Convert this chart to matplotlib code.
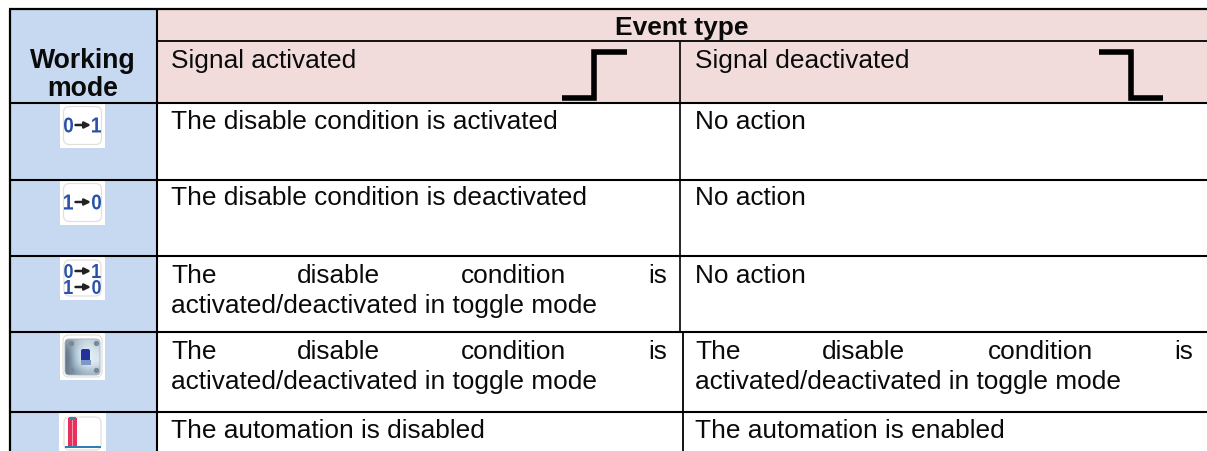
"""Working mode / event type table, drawn in pixel coordinates."""

import matplotlib
matplotlib.use("Agg")
import matplotlib.pyplot as plt
from matplotlib.colors import to_rgb
from matplotlib.font_manager import FontProperties
from matplotlib.patches import FancyBboxPatch, PathPatch, Rectangle
from matplotlib.textpath import TextPath
from matplotlib.transforms import Affine2D

plt.rcParams["font.family"] = ["Liberation Sans", "DejaVu Sans"]

W, H = 1207, 452
FS = 18.9
BLACK = "#000000"
BLUE_BG = "#c6d9f1"
PINK_BG = "#f2dcdb"
ICON_BLUE = "#2a52a8"

# ----------------------------------------------------------------------
# Table content
# ----------------------------------------------------------------------
group_header = "Event type"
activated_header = "Signal activated"
deactivated_header = "Signal deactivated"

toggle_words = ["The", "disable", "condition", "is"]
toggle_second = "activated/deactivated in toggle mode"

activated_text = [
    "The disable condition is activated",
    "The disable condition is deactivated",
    None,
    None,
    "The automation is disabled",
]
deactivated_text = [
    "No action",
    "No action",
    "No action",
    None,
    "The automation is enabled",
]

# shading of the switch icon plate
plate_colors = [
    ["#8c9cab", "#a9b9c5", "#c3d2dc", "#c9d9e3", "#bccbd6"],
    ["#65798a", "#b9cfdd", "#d4e6f1", "#e2eff7", "#d0dee8"],
    ["#5f7384", "#b3cbdb", "#d6e8f3", "#e8f3f9", "#dbe8f0"],
    ["#5f7384", "#aac4d6", "#d0e4f0", "#e4f0f7", "#d8e5ee"],
    ["#6c7f8f", "#8296a6", "#9cb0bf", "#a9bcc9", "#a5b6c3"],
]

fig = plt.figure(figsize=(W / 100, H / 100), dpi=100)
ax = fig.add_axes([0, 0, 1, 1])

# ----------------------------------------------------------------------
# Grid geometry (pixels)
# ----------------------------------------------------------------------
LEFT, COL1 = 9.5, 157
TOP, SUB, HEAD = 10, 42, 103.5
row_lines = [103.5, 181, 257, 333, 412.7]
col2_top = 680
col2_bottom = 682.7


def hline(y, x0, x1, lw=1.4):
    ax.plot([x0, x1], [y, y], color=BLACK, lw=lw, solid_capstyle="butt", zorder=3)


def vline(x, y0, y1, lw=1.4):
    ax.plot([x, x], [y0, y1], color=BLACK, lw=lw, solid_capstyle="butt", zorder=3)


ax.add_patch(Rectangle((LEFT, TOP), COL1 - LEFT, H - TOP, fc=BLUE_BG, ec="none"))
ax.add_patch(Rectangle((COL1, TOP), W - COL1, HEAD - TOP, fc=PINK_BG, ec="none"))

hline(TOP, LEFT - 1, W, 1.6)
hline(SUB, COL1, W, 1.3)
for y in row_lines:
    hline(y, LEFT, W, 1.5)
vline(LEFT, TOP, H, 1.6)
vline(COL1, TOP, H, 1.5)
vline(col2_top, SUB, 333, 1.2)
vline(col2_bottom, 333, H, 1.3)


# ----------------------------------------------------------------------
# Text
# ----------------------------------------------------------------------
def put(x, y, s, **kw):
    kw.setdefault("fontsize", FS)
    kw.setdefault("va", "baseline")
    kw.setdefault("color", "#0a0a0a")
    return ax.text(x, y, s, **kw)


put(82.5, 68, "Working", ha="center", fontweight="bold", fontsize=19.2)
put(82.5, 96, "mode", ha="center", fontweight="bold", fontsize=19.2)
put(682, 34.5, group_header, ha="center", fontweight="bold", fontsize=19)
put(171, 68, activated_header)
put(695, 68, deactivated_header)

cell_x1 = 171
cell_x2 = 695
baselines = [129, 205, 283, 359, 438]
for y, a, d in zip(baselines, activated_text, deactivated_text):
    if a:
        put(cell_x1, y, a)
    if d:
        put(cell_x2, y, d)


def toggle_cell(x0, y, word_x):
    """Justified first line, the word spacing follows the reference."""
    for word, wx in zip(toggle_words, word_x):
        put(wx, y, word)
    put(x0, y + 30, toggle_second)


toggle_cell(171, 283, [171, 297, 461, 648])
toggle_cell(171, 359, [171, 297, 461, 648])
toggle_cell(695, 359, [695, 822, 988, 1174])


# ----------------------------------------------------------------------
# Signal edge symbols
# ----------------------------------------------------------------------
def edge(xs, ys):
    ax.plot(xs, ys, color=BLACK, lw=4.0, solid_joinstyle="miter",
            solid_capstyle="butt", zorder=4)


edge([562, 594, 594, 627], [99, 99, 53.3, 53.3])
edge([1099, 1131, 1131, 1163], [53.3, 53.3, 99, 99])


# ----------------------------------------------------------------------
# Icons
# ----------------------------------------------------------------------
def icon_base(x0, y0, x1, y1, pad=3.5):
    ax.add_patch(Rectangle((x0, y0), x1 - x0, y1 - y0, fc="white", ec="none", zorder=2))
    ax.add_patch(FancyBboxPatch((x0 + pad, y0 + pad), x1 - x0 - 2 * pad, y1 - y0 - 2 * pad,
                                boxstyle="round,pad=0,rounding_size=6", fc="white",
                                ec="#e0e0e0", lw=0.9, zorder=2))


def narrow_digit(cx, cy, s, w, h):
    """The icon digits are condensed, so the glyph is squeezed into a w x h box."""
    path = TextPath((0, 0), s, size=1, prop=FontProperties(family="Liberation Sans", weight="bold"))
    box = path.get_extents()
    tr = (Affine2D().translate(-box.x0 - box.width / 2, -box.y0 - box.height / 2)
          .scale(w / box.width, -h / box.height).translate(cx, cy))
    ax.add_patch(PathPatch(path, transform=tr + ax.transData, fc=ICON_BLUE, ec="none", zorder=5))


def arrow_label(cx, cy, left, right, w=9, h=15):
    narrow_digit(cx - 14, cy, left, w, h)
    narrow_digit(cx + 14, cy, right, w, h)
    ax.annotate("", xy=(cx + 8.5, cy), xytext=(cx - 7, cy),
                arrowprops=dict(arrowstyle="-|>", lw=1.8, color="#222222",
                                mutation_scale=9, shrinkA=0, shrinkB=0), zorder=5)


icon_base(60, 104, 105, 149)
arrow_label(82.5, 126, "0", "1")
icon_base(60, 181, 105, 226)
arrow_label(82.5, 203, "1", "0")
icon_base(60, 257, 105, 301, pad=4)
arrow_label(82.5, 272, "0", "1", 8.5, 14)
arrow_label(82.5, 288, "1", "0", 8.5, 14)

# switch icon
icon_base(60, 333, 105, 381, pad=3)
plate = [[to_rgb(c) for c in row] for row in plate_colors]
im = ax.imshow(plate, extent=(65, 100, 376, 340), interpolation="bicubic", zorder=3, aspect="auto")
clip = FancyBboxPatch((65, 340), 35, 36, boxstyle="round,pad=0,rounding_size=4",
                      fc="none", ec="#9fb0bc", lw=0.6, zorder=3)
ax.add_patch(clip)
im.set_clip_path(clip)
ax.add_patch(FancyBboxPatch((81, 350), 9, 12, boxstyle="round,pad=0,rounding_size=2",
                            fc="#24309c", ec="none", zorder=4))
ax.add_patch(Rectangle((80.5, 361), 10, 5, fc="#7b98c6", ec="none", zorder=4))
for sx, sy in [(71, 344), (96, 344), (71, 371), (96, 371)]:
    ax.plot(sx, sy, "o", ms=2.8, color="#77899a", zorder=4)

# automation icon
icon_base(59, 413, 106, 456, pad=5)
ax.add_patch(Rectangle((67.7, 419), 9, 30, fc="#e8305a", ec="none", zorder=3))
ax.add_patch(Rectangle((71.5, 419), 1.5, 30, fc="#f59ab0", ec="none", zorder=4))
ax.add_patch(Rectangle((69, 418), 6.7, 3, fc="#3a83b5", ec="none", zorder=4))
ax.add_patch(Rectangle((65, 446.7), 35.5, 2.6, fc="#2f7fb0", ec="none", zorder=4))

ax.set_xlim(0, W)
ax.set_ylim(H, 0)
ax.axis("off")

fig.savefig("out.png", dpi=100)
